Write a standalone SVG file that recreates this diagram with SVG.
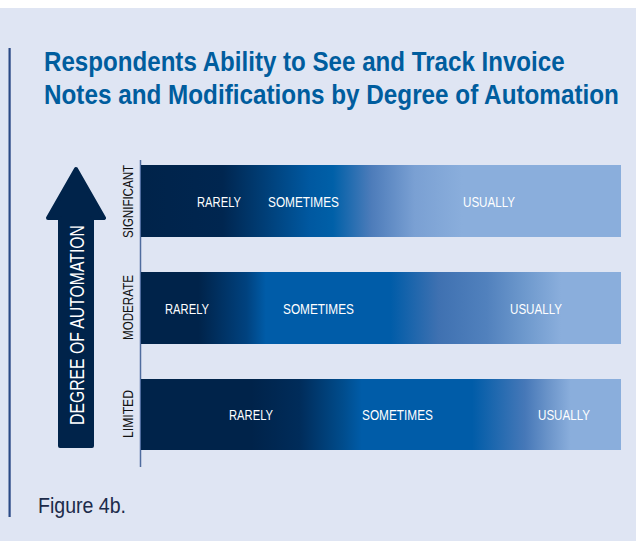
<svg xmlns="http://www.w3.org/2000/svg" width="636" height="541" viewBox="0 0 636 541">
  <defs>
    <style>
      .title { font-family: "Liberation Sans", Arial, sans-serif; font-weight: bold; font-size: 27px; fill: #005d9e; }
      .lbl { font-family: "Liberation Sans", Arial, sans-serif; font-size: 15.5px; fill: #ffffff; }
      .cat { font-family: "Liberation Sans", Arial, sans-serif; font-size: 15px; fill: #111111; }
      .axis { font-family: "Liberation Sans", Arial, sans-serif; font-size: 21px; fill: #ffffff; }
      .fig { font-family: "Liberation Sans", Arial, sans-serif; font-size: 22px; fill: #1c2b4a; }
    </style>
    <linearGradient id="g1" x1="0" y1="0" x2="1" y2="0">
      <stop offset="0" stop-color="#00234a"/>
      <stop offset="0.17" stop-color="#002650"/>
      <stop offset="0.35" stop-color="#0058a0"/>
      <stop offset="0.40" stop-color="#0060a8"/>
      <stop offset="0.48" stop-color="#4d7cba"/>
      <stop offset="0.57" stop-color="#7aa0d3"/>
      <stop offset="0.67" stop-color="#8aaedc"/>
      <stop offset="1" stop-color="#8aaedc"/>
    </linearGradient>
    <linearGradient id="g2" x1="0" y1="0" x2="1" y2="0">
      <stop offset="0" stop-color="#00234a"/>
      <stop offset="0.12" stop-color="#00234a"/>
      <stop offset="0.22" stop-color="#00427f"/>
      <stop offset="0.26" stop-color="#005ca8"/>
      <stop offset="0.52" stop-color="#005ca8"/>
      <stop offset="0.62" stop-color="#3f71b1"/>
      <stop offset="0.72" stop-color="#5181bd"/>
      <stop offset="0.80" stop-color="#6e99cd"/>
      <stop offset="0.875" stop-color="#8aaedc"/>
      <stop offset="1" stop-color="#8aaedc"/>
    </linearGradient>
    <linearGradient id="g3" x1="0" y1="0" x2="1" y2="0">
      <stop offset="0" stop-color="#00234a"/>
      <stop offset="0.23" stop-color="#00234a"/>
      <stop offset="0.33" stop-color="#002c5a"/>
      <stop offset="0.42" stop-color="#004c8c"/>
      <stop offset="0.46" stop-color="#005ca8"/>
      <stop offset="0.69" stop-color="#005ca8"/>
      <stop offset="0.80" stop-color="#4678b8"/>
      <stop offset="0.85" stop-color="#6c95ca"/>
      <stop offset="0.895" stop-color="#8aaedc"/>
      <stop offset="1" stop-color="#8aaedc"/>
    </linearGradient>
  </defs>

  <rect x="0" y="0" width="636" height="541" fill="#ffffff"/>
  <rect x="0" y="8" width="636" height="533" fill="#dfe5f3"/>

  <g id="frame-line">
    <rect x="8.5" y="48" width="2.2" height="469" fill="#2b4a86"/>
  </g>

  <g id="title">
    <text class="title" transform="translate(44,71) scale(0.89,1)" x="0" y="0" textLength="585" lengthAdjust="spacingAndGlyphs">Respondents Ability to See and Track Invoice</text>
    <text class="title" transform="translate(44,104) scale(0.89,1)" x="0" y="0" textLength="646" lengthAdjust="spacingAndGlyphs">Notes and Modifications by Degree of Automation</text>
  </g>

  <g id="automation-arrow">
    <path d="M76,169 L104,218 L92,218 L92,446 L60,446 L60,218 L48,218 Z" fill="#00234a" stroke="#00234a" stroke-width="4" stroke-linejoin="round"/>
    <text class="axis" transform="translate(83.5,425) rotate(-90)" x="0" y="0" textLength="200" lengthAdjust="spacingAndGlyphs">DEGREE OF AUTOMATION</text>
  </g>

  <g id="connectors">
    <line x1="140.5" y1="160" x2="140.5" y2="467" stroke="#4f6c9e" stroke-width="1.5"/>
  </g>

  <g id="bar-significant">
    <rect x="141" y="165" width="480" height="72" fill="url(#g1)"/>
    <text class="cat" transform="translate(133,238) rotate(-90)" textLength="73" lengthAdjust="spacingAndGlyphs">SIGNIFICANT</text>
    <text class="lbl" x="197" y="207" textLength="44" lengthAdjust="spacingAndGlyphs">RARELY</text>
    <text class="lbl" x="268" y="207" textLength="71" lengthAdjust="spacingAndGlyphs">SOMETIMES</text>
    <text class="lbl" x="463" y="207" textLength="52" lengthAdjust="spacingAndGlyphs">USUALLY</text>
  </g>

  <g id="bar-moderate">
    <rect x="141" y="272" width="480" height="72" fill="url(#g2)"/>
    <text class="cat" transform="translate(133,340) rotate(-90)" textLength="65" lengthAdjust="spacingAndGlyphs">MODERATE</text>
    <text class="lbl" x="165" y="314" textLength="44" lengthAdjust="spacingAndGlyphs">RARELY</text>
    <text class="lbl" x="283" y="314" textLength="71" lengthAdjust="spacingAndGlyphs">SOMETIMES</text>
    <text class="lbl" x="510" y="314" textLength="52" lengthAdjust="spacingAndGlyphs">USUALLY</text>
  </g>

  <g id="bar-limited">
    <rect x="141" y="379" width="480" height="71" fill="url(#g3)"/>
    <text class="cat" transform="translate(133,438) rotate(-90)" textLength="48" lengthAdjust="spacingAndGlyphs">LIMITED</text>
    <text class="lbl" x="229" y="420" textLength="44" lengthAdjust="spacingAndGlyphs">RARELY</text>
    <text class="lbl" x="362" y="420" textLength="71" lengthAdjust="spacingAndGlyphs">SOMETIMES</text>
    <text class="lbl" x="538" y="420" textLength="52" lengthAdjust="spacingAndGlyphs">USUALLY</text>
  </g>

  <g id="caption">
    <text class="fig" x="38" y="513" textLength="88" lengthAdjust="spacingAndGlyphs">Figure 4b.</text>
  </g>
</svg>
